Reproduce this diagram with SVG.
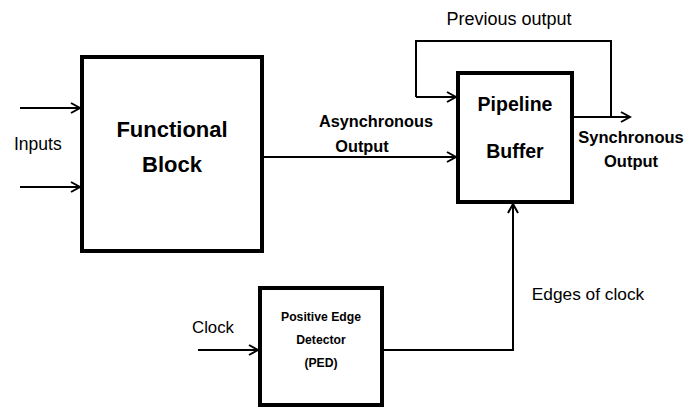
<svg xmlns="http://www.w3.org/2000/svg" width="699" height="408" viewBox="0 0 699 408">
<style>
.box{fill:#fff;stroke:#000;stroke-width:4}
.ln{fill:none;stroke:#000;stroke-width:2}
.t{font-family:"Liberation Sans",Arial,sans-serif;fill:#000}
.b{font-weight:bold}
</style>
<defs>
<marker id="arr" markerUnits="userSpaceOnUse" markerWidth="14" markerHeight="14" viewBox="-12 -7 14 14" refX="0" refY="0" orient="auto">
<path d="M-9,-5 L0,0 L-9,5" fill="none" stroke="#000" stroke-width="2"/>
</marker>
</defs>
<rect width="699" height="408" fill="#fff"/>
<g id="connectors">
<path class="ln" d="M20,108 H80" marker-end="url(#arr)"/>
<path class="ln" d="M20,187 H80" marker-end="url(#arr)"/>
<path class="ln" d="M262,157 H456" marker-end="url(#arr)"/>
<path class="ln" d="M416,97 V41 H611 V117"/>
<path class="ln" d="M416,97 H456" marker-end="url(#arr)"/>
<path class="ln" d="M572,117 H630" marker-end="url(#arr)"/>
<path class="ln" d="M198,350 H258" marker-end="url(#arr)"/>
<path class="ln" d="M382,350 H513 V204" marker-end="url(#arr)"/>
</g>
<g id="functional-block">
<rect class="box" x="82" y="57" width="180" height="194"/>
<text class="t b" x="172" y="137" font-size="22" text-anchor="middle">Functional</text>
<text class="t b" x="172" y="172" font-size="22" text-anchor="middle">Block</text>
</g>
<g id="pipeline-buffer">
<rect class="box" x="458" y="73" width="114" height="129"/>
<text class="t b" x="515" y="111" font-size="19.5" text-anchor="middle">Pipeline</text>
<text class="t b" x="515" y="158" font-size="19.5" text-anchor="middle">Buffer</text>
</g>
<g id="ped">
<rect class="box" x="260" y="288" width="122" height="117"/>
<text class="t b" x="321" y="321" font-size="12.2" text-anchor="middle">Positive Edge</text>
<text class="t b" x="321" y="344" font-size="12.2" text-anchor="middle">Detector</text>
<text class="t b" x="321" y="367" font-size="12.2" text-anchor="middle">(PED)</text>
</g>
<g id="labels">
<text class="t" x="14" y="150" font-size="17.5">Inputs</text>
<text class="t b" x="376" y="127" font-size="16.3" text-anchor="middle">Asynchronous</text>
<text class="t b" x="362" y="152" font-size="16.3" text-anchor="middle">Output</text>
<text class="t" x="509" y="25" font-size="18" text-anchor="middle">Previous output</text>
<text class="t b" x="631" y="143" font-size="16.5" text-anchor="middle">Synchronous</text>
<text class="t b" x="631" y="167" font-size="16.5" text-anchor="middle">Output</text>
<text class="t" x="588" y="300" font-size="17.3" text-anchor="middle">Edges of clock</text>
<text class="t" x="213" y="333" font-size="16.8" text-anchor="middle">Clock</text>
</g>
</svg>
